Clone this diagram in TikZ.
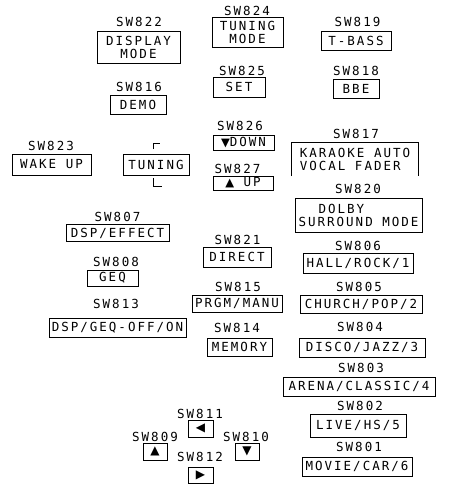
\documentclass[tikz,border=0pt]{standalone}
\usepackage{fontspec}
\newfontfamily\plot{DejaVu Sans Mono}[LetterSpace=16]
\newfontfamily\symf{DejaVu Sans}
\begin{document}
\begin{tikzpicture}[x=1pt,y=-1pt,
  lab/.style={font=\plot\fontsize{12.5}{13}\selectfont,inner sep=0pt},
  key/.style={draw,line width=0.7pt,font=\plot\fontsize{12.5}{13}\selectfont,inner sep=0pt,align=center},
  openkey/.style={font=\plot\fontsize{12.5}{13}\selectfont,inner sep=0pt,align=left},
  arrowkey/.style={draw,line width=0.7pt,inner sep=0pt,font=\symf\fontsize{12}{12}\selectfont},
  sz/.style 2 args={minimum width=#1pt,minimum height=#2pt}]
\useasboundingbox (0,0) rectangle (455,488);
% left column
\node[lab] (l822) at (139,22) {SW822};
\node[key,sz={83}{32}] (b822) at (138.5,47) {DISPLAY\\MODE};
\node[lab] (l816) at (139,86.5) {SW816};
\node[key,sz={56}{19}] (b816) at (138,104.5) {DEMO};
\node[lab] (l823) at (51,146) {SW823};
\node[key,sz={79}{21}] (b823) at (51.5,164.5) {WAKE UP};
\node[key,sz={66}{21}] (btun) at (156,164.5) {TUNING};
\draw[line width=0.6pt] (153,149) -- (153,143) -- (160,143);
\draw[line width=0.6pt] (153,178) -- (153,186) -- (162,186);
\node[lab] (l807) at (117.5,217) {SW807};
\node[key,sz={103}{17}] (b807) at (117.5,233) {DSP/EFFECT};
\node[lab] (l808) at (116,262) {SW808};
\node[key,sz={51}{16}] (b808) at (112.5,278) {GEQ};
\node[lab] (l813) at (116,303.5) {SW813};
\node[key,sz={137}{19}] (b813) at (117.5,327.5) {DSP/GEQ-OFF/ON};
% middle column
\node[lab] (l824) at (247,11) {SW824};
\node[key,sz={71}{30}] (b824) at (247.5,32) {TUNING\\MODE};
\node[lab] (l825) at (242,71) {SW825};
\node[key,sz={52}{20}] (b825) at (239,87) {SET};
\node[lab] (l826) at (240,126) {SW826};
\node[key,sz={61}{15}] (b826) at (243.5,142.5) {{\symf\fontsize{11.5}{11}\selectfont ▼}DOWN};
\node[lab] (l827) at (237.5,169) {SW827};
\node[key,sz={60}{14}] (b827) at (243,183) {{\symf\fontsize{11.5}{11}\selectfont ▲} UP};
\node[lab] (l821) at (237.5,240) {SW821};
\node[key,sz={68}{20}] (b821) at (237,257) {DIRECT};
\node[lab] (l815) at (238,287) {SW815};
\node[key,sz={90}{17}] (b815) at (237,303.5) {PRGM/MANU};
\node[lab] (l814) at (237,328) {SW814};
\node[key,sz={65}{18}] (b814) at (239.5,347) {MEMORY};
% right column
\node[lab] (l819) at (357.5,22) {SW819};
\node[key,sz={70}{19}] (b819) at (356,40.5) {T-BASS};
\node[lab] (l818) at (356,71) {SW818};
\node[key,sz={46}{19}] (b818) at (356,88.5) {BBE};
\node[lab] (l817) at (356,134) {SW817};
\node[openkey,sz={126}{33}] (b817) at (355,159.5) {KARAOKE AUTO\\VOCAL FADER};
\draw[line width=0.7pt] (b817.south west) -- (b817.north west) -- (b817.north east) -- (b817.south east);
\node[lab] (l820) at (358,189) {SW820};
\node[key,align=left,sz={127}{34}] (b820) at (358.5,215) {\hspace*{20pt}DOLBY\\SURROUND MODE};
\node[lab] (l806) at (358,246) {SW806};
\node[key,sz={110}{20}] (b806) at (358,263) {HALL/ROCK/1};
\node[lab] (l805) at (359,287) {SW805};
\node[key,sz={122}{18}] (b805) at (361,304) {CHURCH/POP/2};
\node[lab] (l804) at (360,327) {SW804};
\node[key,sz={126}{19}] (b804) at (362,347.5) {DISCO/JAZZ/3};
\node[lab] (l803) at (361,368) {SW803};
\node[key,sz={152}{19}] (b803) at (359,386.5) {ARENA/CLASSIC/4};
\node[lab] (l802) at (360,406) {SW802};
\node[key,sz={96}{23}] (b802) at (358,425.5) {LIVE/HS/5};
\node[lab] (l801) at (359,447) {SW801};
\node[key,sz={110}{19}] (b801) at (357,466.5) {MOVIE/CAR/6};
% cursor keys
\node[lab] (l811) at (200,414) {SW811};
\node[arrowkey,sz={25}{17}] (b811) at (200.5,428.5) {◀};
\node[lab] (l809) at (155,437) {SW809};
\node[arrowkey,sz={24}{17}] (b809) at (155,451.5) {▲};
\node[lab] (l810) at (246,437) {SW810};
\node[arrowkey,sz={24}{17}] (b810) at (247,451.5) {▼};
\node[lab] (l812) at (200,457) {SW812};
\node[arrowkey,sz={25}{16}] (b812) at (200.5,475) {▶};
\end{tikzpicture}
\end{document}
